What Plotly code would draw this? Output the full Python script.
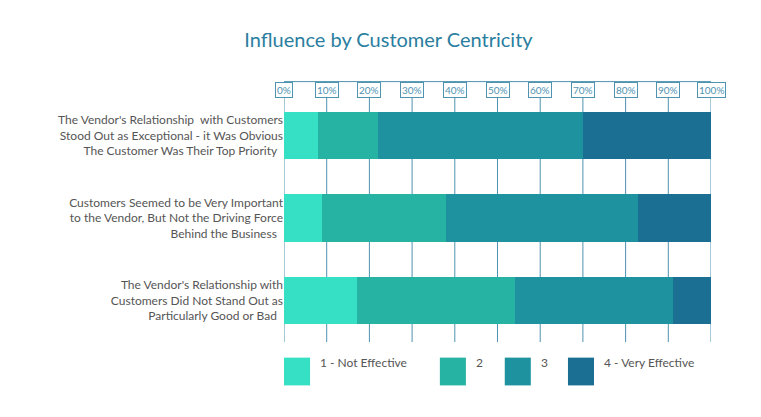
import plotly.graph_objects as go

categories = [
    "The Vendor's Relationship  with Customers<br>Stood Out as Exceptional - it Was Obvious<br>The Customer Was Their Top Priority",
    "Customers Seemed to be Very Important<br>to the Vendor, But Not the Driving Force<br>Behind the Business",
    "The Vendor's Relationship with<br>Customers Did Not Stand Out as<br>Particularly Good or Bad",
]
series_names = ["1 - Not Effective", "2", "3", "4 - Very Effective"]
values = [
    [8, 9, 17],
    [14, 29, 37],
    [48, 45, 37],
    [30, 17, 9],
]
colors = ["#36e0c4", "#26b3a3", "#1e929e", "#1a6f92"]
tick_vals = list(range(0, 101, 10))

fig = go.Figure()
for name, vals, col in zip(series_names, values, colors):
    fig.add_trace(go.Bar(y=categories, x=vals, name=name, orientation="h",
                         marker=dict(color=col, line=dict(width=0))))

grid = "#4f93b0"
shapes = [dict(type="line", xref="x", yref="paper", x0=0, x1=100, y0=1.05, y1=1.05,
               line=dict(color=grid, width=1), layer="below")]
annotations = []
for t in tick_vals:
    shapes.append(dict(type="line", xref="x", yref="paper", x0=t, x1=t, y0=0, y1=1.05,
                       line=dict(color=grid, width=1), layer="below"))
    annotations.append(dict(x=t, y=1.05, xref="x", yref="paper", text=f"{t}%",
                            showarrow=False, bgcolor="white", bordercolor=grid,
                            borderwidth=1, borderpad=1,
                            font=dict(size=10, color="#4f93b0")))

# custom legend
leg_x = [0, 0.365, 0.517, 0.665]
for name, col, lx in zip(series_names, colors, leg_x):
    shapes.append(dict(type="rect", xref="paper", yref="paper", x0=lx, x1=lx + 0.061,
                       y0=-0.175, y1=-0.063, fillcolor=col, line=dict(width=0)))
    annotations.append(dict(x=lx + 0.08, y=-0.119, xref="paper", yref="paper", text=name,
                            showarrow=False, xanchor="left",
                            font=dict(size=12, color="#555")))

fig.update_layout(
    barmode="stack", bargap=0.43,
    width=761, height=417,
    margin=dict(l=276, r=58, t=86, b=83),
    paper_bgcolor="white", plot_bgcolor="white",
    font=dict(family="Lato, Open Sans, sans-serif", color="#555"),
    title=dict(text="Influence by Customer Centricity", x=0.5, y=0.94, xanchor="center",
               font=dict(size=20, color="#2a7ea0")),
    xaxis=dict(range=[0, 100], showticklabels=False, showgrid=False, zeroline=False),
    yaxis=dict(autorange="reversed", showgrid=False, tickfont=dict(size=12, color="#555"),
               ticksuffix="  "),
    showlegend=False,
    shapes=shapes, annotations=annotations,
)

fig.write_html("out.html")
